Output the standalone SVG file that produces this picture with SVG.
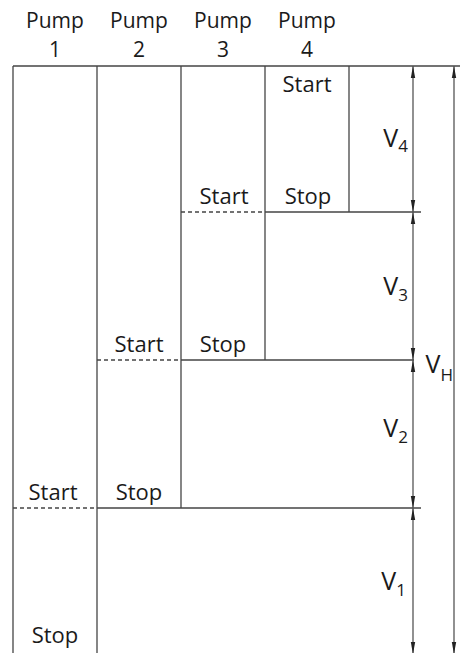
<svg xmlns="http://www.w3.org/2000/svg" width="460" height="653" viewBox="0 0 460 653">
<style>
text{font-family:"Open Sans","Noto Sans","DejaVu Sans",sans-serif;font-size:22px;fill:#1a1a1a;text-anchor:middle}
.hd{font-size:21px}
.v{font-size:25px;text-anchor:end}
.sub{font-size:17px}
.grid{stroke:#444;stroke-width:1.3;fill:none}
.dash{stroke:#444;stroke-width:1.3;stroke-dasharray:4 3;fill:none}
.dim{stroke:#555;stroke-width:1.3;fill:none;marker-start:url(#ah);marker-end:url(#ah)}
</style>
<defs>
<marker id="ah" viewBox="0 0 12 6" refX="12" refY="3" markerWidth="12" markerHeight="6" markerUnits="userSpaceOnUse" orient="auto-start-reverse">
<path d="M0,0.8 L12,3 L0,5.2 Z" fill="#222"/>
</marker>
</defs>
<g id="headers">
<text class="hd" x="55" y="28">Pump</text><text class="hd" x="55" y="57">1</text>
<text class="hd" x="139" y="28">Pump</text><text class="hd" x="139" y="57">2</text>
<text class="hd" x="223" y="28">Pump</text><text class="hd" x="223" y="57">3</text>
<text class="hd" x="307" y="28">Pump</text><text class="hd" x="307" y="57">4</text>
</g>
<g id="grid">
<line class="grid" x1="13" y1="66" x2="460" y2="66"/>
<line class="grid" x1="13" y1="66" x2="13" y2="653"/>
<line class="grid" x1="97" y1="66" x2="97" y2="653"/>
<line class="grid" x1="181" y1="66" x2="181" y2="508"/>
<line class="grid" x1="265" y1="66" x2="265" y2="360"/>
<line class="grid" x1="349" y1="66" x2="349" y2="212"/>
</g>
<g id="pump4">
<text x="307" y="92">Start</text>
<text x="308" y="204">Stop</text>
<line class="dash" x1="181" y1="212" x2="265" y2="212"/>
<line class="grid" x1="265" y1="212" x2="421" y2="212"/>
</g>
<g id="pump3">
<text x="224" y="204">Start</text>
<text x="223" y="352">Stop</text>
<line class="dash" x1="97" y1="360" x2="181" y2="360"/>
<line class="grid" x1="181" y1="360" x2="414" y2="360"/>
</g>
<g id="pump2">
<text x="139" y="352">Start</text>
<text x="139" y="500">Stop</text>
<line class="dash" x1="13" y1="508" x2="97" y2="508"/>
<line class="grid" x1="97" y1="508" x2="421" y2="508"/>
</g>
<g id="pump1">
<text x="53" y="500">Start</text>
<text x="55" y="643">Stop</text>
</g>
<g id="connectors">
<line class="dim" x1="413" y1="66" x2="413" y2="212"/>
<line class="dim" x1="413" y1="212" x2="413" y2="360"/>
<line class="dim" x1="413" y1="360" x2="413" y2="508"/>
<line class="dim" x1="413" y1="508" x2="413" y2="654"/>
<line class="dim" x1="454" y1="66" x2="454" y2="654"/>
</g>
<g id="labels">
<text class="v" x="408" y="147">V<tspan class="sub" dy="5">4</tspan></text>
<text class="v" x="408" y="295">V<tspan class="sub" dy="6">3</tspan></text>
<text class="v" x="408" y="437">V<tspan class="sub" dy="6">2</tspan></text>
<text class="v" x="406" y="590">V<tspan class="sub" dy="6">1</tspan></text>
<text class="v" x="453" y="373">V<tspan class="sub" dy="8">H</tspan></text>
</g>
</svg>
